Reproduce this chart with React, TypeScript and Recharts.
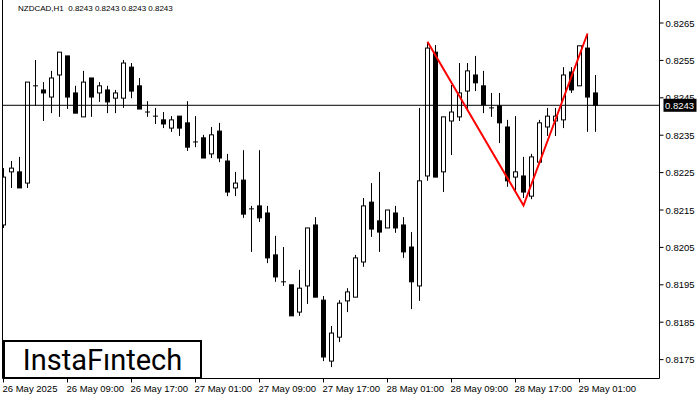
import React from "react";
import {
  ComposedChart,
  Bar,
  Line,
  XAxis,
  YAxis,
  ReferenceLine,
} from "recharts";

const symbol = "NZDCAD,H1";
const lastPrice = 0.8243;

// hourly candles, 26 May 00:00 .. 29 May 02:00
const open = [
  0.8211, 0.82252, 0.82252, 0.82222, 0.82482, 0.82471, 0.82452, 0.82511, 0.82562, 0.82463,
  0.82399, 0.82503, 0.82463, 0.82471, 0.82449, 0.82449, 0.82532, 0.82482, 0.82412, 0.82401,
  0.82391, 0.82369, 0.82401, 0.82383, 0.82332, 0.82343, 0.823, 0.82361, 0.82281, 0.82209,
  0.8223, 0.82153, 0.82161, 0.82142, 0.8203, 0.81958, 0.8195, 0.81877, 0.81947, 0.8211,
  0.81909, 0.81746, 0.8181, 0.81907, 0.81917, 0.82011, 0.82171, 0.82121, 0.82102, 0.82142,
  0.8211, 0.82051, 0.81947, 0.82241, 0.82572, 0.82252, 0.82388, 0.82399, 0.82468, 0.82511,
  0.82482, 0.82423, 0.82428, 0.82372, 0.82238, 0.82241, 0.82187, 0.82278, 0.82372, 0.82388,
  0.82391, 0.82519, 0.82482, 0.82583, 0.82463,
];
const high = [
  0.82262, 0.82281, 0.82292, 0.82492, 0.82551, 0.82492, 0.82522, 0.82572, 0.82562, 0.82482,
  0.82522, 0.82503, 0.82492, 0.82482, 0.82471, 0.82551, 0.82543, 0.82503, 0.82441, 0.82423,
  0.82412, 0.82401, 0.82401, 0.82441, 0.82401, 0.82351, 0.82372, 0.82383, 0.823, 0.82252,
  0.8231, 0.82161, 0.8231, 0.82161, 0.82081, 0.82051, 0.8195, 0.8199, 0.82102, 0.82131,
  0.8192, 0.8184, 0.81909, 0.81941, 0.8203, 0.82182, 0.82222, 0.82252, 0.8215, 0.82161,
  0.82131, 0.82091, 0.82423, 0.82599, 0.82591, 0.82399, 0.82484, 0.82543, 0.82543, 0.82562,
  0.82522, 0.82463, 0.82463, 0.82391, 0.82401, 0.82292, 0.823, 0.82391, 0.82423, 0.82423,
  0.82532, 0.82532, 0.82589, 0.82621, 0.82511,
];
const low = [
  0.82102, 0.82209, 0.82209, 0.82209, 0.82428, 0.82388, 0.82409, 0.82399, 0.8242, 0.82409,
  0.82399, 0.82399, 0.82439, 0.82409, 0.82409, 0.82423, 0.82449, 0.8242, 0.82399, 0.8238,
  0.82369, 0.82359, 0.82348, 0.82308, 0.82318, 0.82289, 0.82289, 0.82278, 0.82187, 0.82187,
  0.82129, 0.82038, 0.82118, 0.82008, 0.81958, 0.81947, 0.81867, 0.81867, 0.81899, 0.81917,
  0.81746, 0.8173, 0.81797, 0.81877, 0.81917, 0.81998, 0.82078, 0.82038, 0.82102, 0.82089,
  0.82022, 0.81885, 0.81907, 0.82228, 0.82238, 0.82198, 0.82297, 0.82388, 0.8242, 0.82468,
  0.82409, 0.82399, 0.82329, 0.82212, 0.82201, 0.82182, 0.82179, 0.82278, 0.82348, 0.82348,
  0.82369, 0.82463, 0.82482, 0.82359, 0.82359,
];
const close = [
  0.82238, 0.82262, 0.82209, 0.82492, 0.8248, 0.82463, 0.82503, 0.82572, 0.82452, 0.82409,
  0.82492, 0.82452, 0.82482, 0.82439, 0.82463, 0.82543, 0.82468, 0.8242, 0.82412, 0.82401,
  0.8238, 0.82391, 0.82369, 0.82318, 0.82332, 0.82289, 0.82351, 0.82289, 0.82198, 0.82222,
  0.82139, 0.82153, 0.82129, 0.82022, 0.81971, 0.81958, 0.81867, 0.81941, 0.82102, 0.81917,
  0.81757, 0.81821, 0.81901, 0.81931, 0.82022, 0.82161, 0.82099, 0.82091, 0.8215, 0.82102,
  0.82038, 0.81958, 0.82228, 0.82583, 0.82238, 0.82399, 0.82412, 0.82463, 0.82522, 0.8249,
  0.82431, 0.82423, 0.82383, 0.82228, 0.82252, 0.82198, 0.82292, 0.82383, 0.82401, 0.82401,
  0.82511, 0.82471, 0.82589, 0.82452, 0.8243,
];

// double top drawn in red: candle index -> price
const patternIdx = [53, 65, 73];
const patternPrice = [0.826, 0.82162, 0.82622];

const timeTicks = [0, 8, 16, 24, 32, 40, 48, 56, 64, 72];
const timeLabels = [
  "26 May 2025",
  "26 May 09:00",
  "26 May 17:00",
  "27 May 01:00",
  "27 May 09:00",
  "27 May 17:00",
  "28 May 01:00",
  "28 May 09:00",
  "28 May 17:00",
  "29 May 01:00",
];
const priceTicks = [
  0.8175, 0.8185, 0.8195, 0.8205, 0.8215, 0.8225, 0.8235, 0.8245, 0.8255, 0.8265,
];

const data = open.map((o, i) => {
  const p = patternIdx.indexOf(i);
  return {
    i,
    open: o,
    high: high[i],
    low: low[i],
    close: close[i],
    range: [low[i], high[i]],
    pattern: p >= 0 ? patternPrice[p] : null,
  };
});

const X_MIN = -0.125;
const X_MAX = 82;
const Y_MIN = 0.816995;
const Y_MAX = 0.827115;
const FONT = "'Liberation Sans', Arial, sans-serif";

function Candle(props: any) {
  const { x, y, width, height, payload } = props;
  if (x == null || y == null || !payload) return null;
  const top = Math.min(y, y + height);
  const h = Math.abs(height);
  const span = payload.high - payload.low;
  const ppu = span > 0 ? h / span : 0;
  const py = (v: number) => top + (payload.high - v) * ppu;
  const cx = Math.floor(x + width / 2) + 0.5;
  const bodyTop = py(Math.max(payload.open, payload.close));
  const bodyBot = py(Math.min(payload.open, payload.close));
  const bull = payload.close > payload.open;
  return (
    <g>
      <line x1={cx} x2={cx} y1={top} y2={top + h} stroke="#000" strokeWidth={1} />
      {bodyBot - bodyTop < 1 ? (
        <line x1={cx - 2.5} x2={cx + 2.5} y1={bodyTop} y2={bodyTop} stroke="#000" strokeWidth={1} />
      ) : (
        <rect
          x={cx - 2}
          y={bodyTop}
          width={4}
          height={bodyBot - bodyTop}
          fill={bull ? "#fff" : "#000"}
          stroke="#000"
          strokeWidth={1}
        />
      )}
    </g>
  );
}

function TimeTick(props: any) {
  const { x, y, payload } = props;
  const k = timeTicks.indexOf(payload.value);
  return (
    <text x={x - 1} y={y} dy={7} fontSize={9.5} fontFamily={FONT} fill="#000" textAnchor="start">
      {k >= 0 ? timeLabels[k] : ""}
    </text>
  );
}

function PriceTick(props: any) {
  const { x, y, payload } = props;
  return (
    <text x={x} y={y} dy={3.5} fontSize={9.5} fontFamily={FONT} fill="#000" textAnchor="start">
      {Number(payload.value).toFixed(4)}
    </text>
  );
}

function PriceTag(props: any) {
  const vb = props.viewBox || {};
  const x = (vb.x ?? 0) + (vb.width ?? 0);
  const y = vb.y ?? 0;
  return (
    <g>
      <rect x={x + 4} y={y - 6.5} width={33} height={13} fill="#000" />
      <text x={x + 5.5} y={y + 3.5} fontSize={9.5} fontFamily={FONT} fill="#fff" textAnchor="start">
        {lastPrice.toFixed(4)}
      </text>
    </g>
  );
}

export default function App() {
  return (
    <div
      style={{
        position: "absolute",
        left: 0,
        top: 0,
        width: 700,
        height: 400,
        background: "#fff",
        overflow: "hidden",
      }}
    >
      <ComposedChart
        width={700}
        height={400}
        data={data}
        margin={{ top: 0, right: 0, bottom: 0, left: 2.5 }}
      >
        <XAxis
          dataKey="i"
          type="number"
          domain={[X_MIN, X_MAX]}
          allowDataOverflow
          ticks={timeTicks}
          tick={<TimeTick />}
          tickSize={4}
          height={21.5}
          stroke="#000"
          tickLine={{ stroke: "#000" }}
          axisLine={{ stroke: "#000" }}
          interval={0}
        />
        <YAxis
          orientation="right"
          type="number"
          domain={[Y_MIN, Y_MAX]}
          allowDataOverflow
          ticks={priceTicks}
          tick={<PriceTick />}
          tickSize={4}
          width={40.5}
          stroke="#000"
          tickLine={{ stroke: "#000" }}
          axisLine={{ stroke: "#000" }}
          interval={0}
        />
        <ReferenceLine x={X_MIN} stroke="#000" strokeWidth={1} />
        <ReferenceLine y={lastPrice} stroke="#000" strokeWidth={1} label={<PriceTag />} />
        <Bar dataKey="range" barSize={5} shape={<Candle />} isAnimationActive={false} />
        <Line
          dataKey="pattern"
          stroke="#ff0000"
          strokeWidth={2}
          dot={false}
          activeDot={false}
          connectNulls
          isAnimationActive={false}
        />
      </ComposedChart>

      <div
        style={{
          position: "absolute",
          left: 18,
          top: 4,
          fontSize: 8,
          fontFamily: FONT,
          color: "#000",
          whiteSpace: "pre",
          lineHeight: "10px",
        }}
      >
        {`${symbol}  0.8243 0.8243 0.8243 0.8243`}
      </div>

      <div
        style={{
          position: "absolute",
          left: 3,
          top: 340,
          width: 199,
          height: 39,
          boxSizing: "border-box",
          border: "2px solid #000",
          background: "#fff",
          display: "flex",
          alignItems: "center",
          justifyContent: "center",
          fontFamily: "Roboto, 'Liberation Sans', sans-serif",
          fontWeight: 400,
          fontSize: 29,
          color: "#000",
        }}
      >
        InstaFıntech
      </div>
    </div>
  );
}
